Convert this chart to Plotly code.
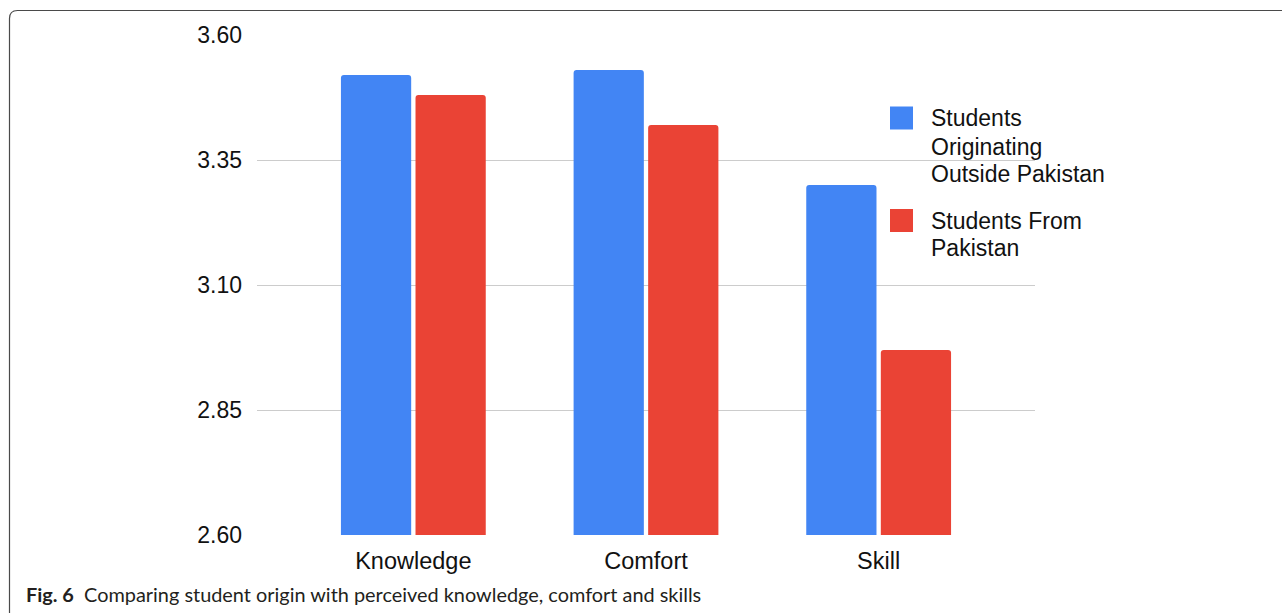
import plotly.graph_objects as go

# Mean scores by student origin
categories = ["Knowledge", "Comfort", "Skill"]
outside_pakistan = [3.52, 3.53, 3.30]
from_pakistan = [3.48, 3.42, 2.97]
series_names = ["Students Originating Outside Pakistan", "Students From Pakistan"]
legend_lines = [["Students", "Originating", "Outside Pakistan"], ["Students From", "Pakistan"]]
y_ticks = [2.60, 2.85, 3.10, 3.35, 3.60]
caption_label = "Fig. 6"
caption_text = "Comparing student origin with perceived knowledge, comfort and skills"

BLUE = "#4285F4"
RED = "#EA4335"

W, H = 1282, 613
L, R, T, B = 257, 247, 35, 78
PW, PH = W - L - R, H - T - B


def px(x):
    return (x - L) / PW


def py(y):
    return (H - B - y) / PH


fig = go.Figure()
fig.add_trace(go.Bar(x=categories, y=outside_pakistan, name=series_names[0],
                     marker=dict(color=BLUE, cornerradius=3, line=dict(width=0)),
                     showlegend=False))
fig.add_trace(go.Bar(x=categories, y=from_pakistan, name=series_names[1],
                     marker=dict(color=RED, cornerradius=3, line=dict(width=0)),
                     showlegend=False))

shapes = []
annotations = []

# Legend swatches and wrapped labels
legend_blocks = [
    (BLUE, 106.5, [118.3, 146.5, 173.5]),
    (RED, 209.0, [221.0, 248.3]),
]
for (color, top, ys), lines in zip(legend_blocks, legend_lines):
    shapes.append(dict(type="rect", xref="paper", yref="paper",
                       x0=px(890), x1=px(913), y0=py(top), y1=py(top + 23),
                       fillcolor=color, line=dict(width=0), layer="above"))
    for yy, line in zip(ys, lines):
        annotations.append(dict(text=line, xref="paper", yref="paper",
                                x=px(929), y=py(yy), xanchor="left", yanchor="middle",
                                showarrow=False,
                                font=dict(family="Liberation Sans, Arial", size=23, color="#111")))

# Figure frame with rounded top-left corner
fx0, fy0, fx1, fy1, r = 9.5, 10.5, 1300, 620, 8
path = (f"M {px(fx0)},{py(fy0 + r)} Q {px(fx0)},{py(fy0)} {px(fx0 + r)},{py(fy0)} "
        f"L {px(fx1)},{py(fy0)} L {px(fx1)},{py(fy1)} L {px(fx0 + r)},{py(fy1)} "
        f"Q {px(fx0)},{py(fy1)} {px(fx0)},{py(fy1 - r)} Z")
shapes.append(dict(type="path", xref="paper", yref="paper", path=path,
                   line=dict(color="#4a4a4a", width=1.2), fillcolor="rgba(0,0,0,0)",
                   layer="below"))

# Caption
annotations.append(dict(text=f"<b>{caption_label}</b>  {caption_text}",
                        xref="paper", yref="paper", x=px(24), y=py(594),
                        xanchor="left", yanchor="middle", showarrow=False,
                        font=dict(family="Lato, Noto Sans", size=19.9, color="#231f20")))

fig.update_layout(
    width=W, height=H,
    margin=dict(l=L, r=R, t=T, b=B, pad=0),
    paper_bgcolor="white", plot_bgcolor="white",
    barmode="group", bargap=0.359, bargroupgap=0.058,
    shapes=shapes, annotations=annotations,
    font=dict(family="Liberation Sans, Arial", size=23, color="#111"),
    xaxis=dict(range=[-0.672, 2.672], showgrid=False, zeroline=False, showline=False,
               ticks="", ticklabelstandoff=9, tickfont=dict(size=23.5, color="#111")),
    yaxis=dict(range=[2.60, 3.60], tickvals=y_ticks, ticktext=[f"{v:.2f}" for v in y_ticks],
               showgrid=True, gridcolor="#cccccc", gridwidth=1.3, zeroline=False,
               showline=False, ticks="", ticklabelstandoff=14,
               tickfont=dict(size=23, color="#111")),
)

fig.write_html("out.html")
